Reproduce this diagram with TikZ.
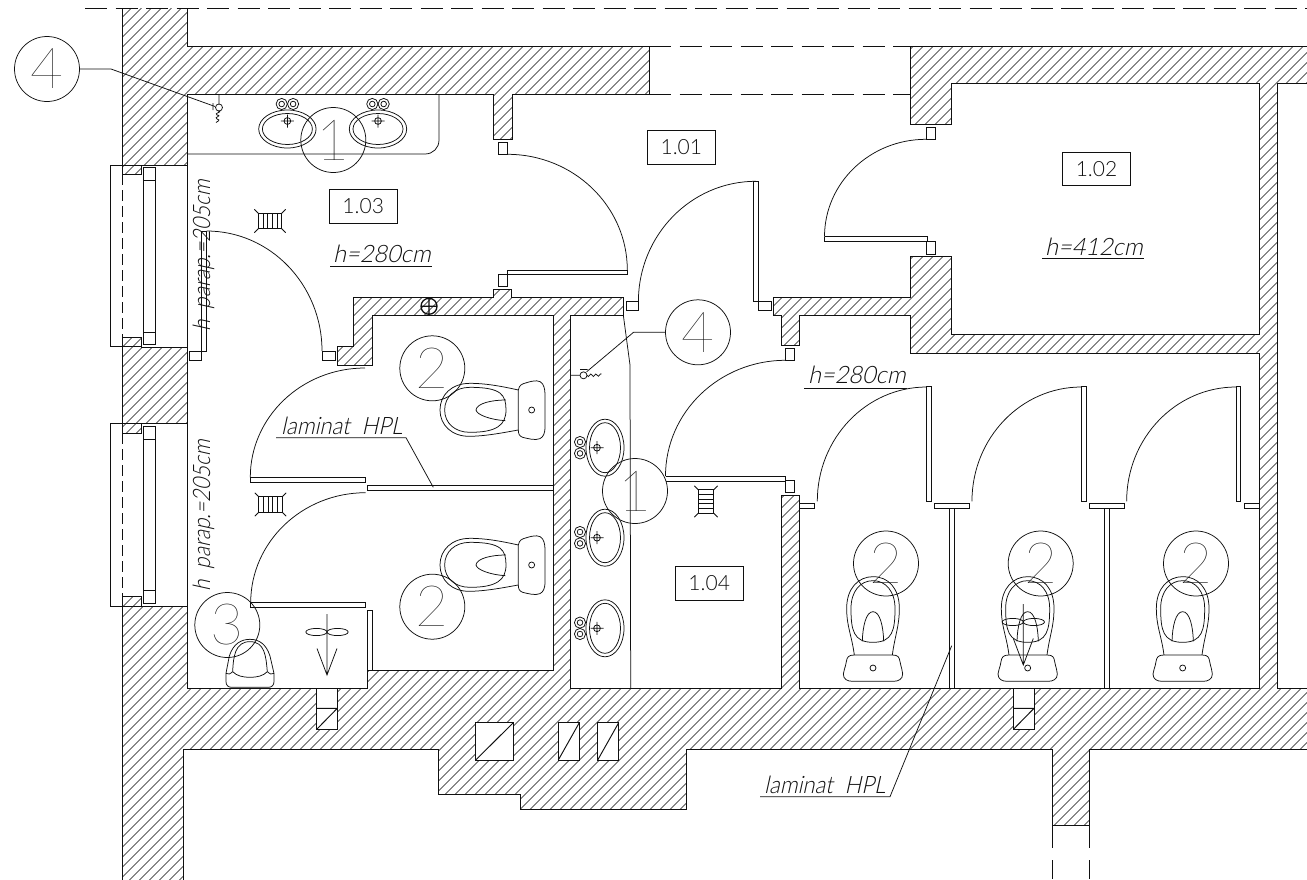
\documentclass[tikz,border=0pt]{standalone}
\usepackage{fontspec}
\usetikzlibrary{calc}
\setmainfont{Lato Light}
\newfontfamily\cadit{Lato Light}[FakeSlant=0.22,FakeStretch=0.98]
\newfontfamily\caditn{Lato Light}[FakeSlant=0.22,FakeStretch=0.92]
\newfontfamily\caditr{Lato Light}[FakeSlant=0.22,FakeStretch=0.86]
\newfontfamily\cadthin{Lato Thin}
\definecolor{ln}{HTML}{101010}
\newcommand{\qarc}[6]{\draw[thin line] (#1,#2) .. controls ($(#1,#2)!0.5523!(#3,#4)$) and ($(#5,#6)!0.5523!(#3,#4)$) .. (#5,#6);}
\newcommand{\wallpath}{
 (187,8) -- (187,46) -- (649,46) -- (649,94) -- (512,94) -- (512,139.3) -- (493.3,139.3) -- (493.3,94) -- (187,94) -- (187,165) -- (141,165) -- (141,174) -- (122,174) -- (122,8)
 (122,337) -- (141,337) -- (141,347) -- (187,347) -- (187,423) -- (141,423) -- (141,433) -- (122,433) -- (122,337)
 (122,596.7) -- (141,596.7) -- (141,606) -- (187,606) -- (187,688) -- (367.3,688) -- (367.3,670.7) -- (553,670.7) -- (553,315) -- (372,315) -- (372,365.3) -- (337.3,365.3) -- (337.3,346.7) -- (353,346.7) -- (353,297.5) -- (493.3,297.5) -- (493.3,289.3) -- (511.7,289.3) -- (511.7,297.5) -- (623.3,297.5) -- (623.3,315) -- (570.7,315) -- (570.7,688) -- (781,688) -- (781,495) -- (799.5,495) -- (799.5,688) -- (1259,688) -- (1259,353.3) -- (910.5,353.3) -- (910.5,315.3) -- (799.7,315.3) -- (799.7,345.3) -- (781.3,345.3) -- (781.3,315.3) -- (773.4,315.3) -- (773.4,297.3) -- (910.5,297.3) -- (910.5,256.3) -- (951.3,256.3) -- (951.3,334.7) -- (1259,334.7) -- (1259,83.3) -- (951.3,83.3) -- (951.3,124.3) -- (910.5,124.3) -- (910.5,46) -- (1315,46) -- (1315,83.3) -- (1277.5,83.3) -- (1277.5,688) -- (1315,688) -- (1315,749) -- (1089.7,749) -- (1089.7,825.3) -- (1052,825.3) -- (1052,749) -- (686.3,749) -- (686.3,809) -- (520.7,809) -- (520.7,794.3) -- (438,794.3) -- (438,749) -- (183,749) -- (183,885) -- (122,885) -- (122,596.7)
}
\newcommand{\tap}[2]{\draw[thin line] (#1,#2) circle[radius=5.6pt] (#1,#2) circle[radius=2.8pt];}
\newcommand{\drain}[2]{\draw[thin line] (#1,#2) circle[radius=3.4pt] (#1-6.5,#2) -- (#1+6.5,#2) (#1,#2-6.5) -- (#1,#2+6.5);}
\newcommand{\sinkH}[2]{%
 \draw[thin line] (#1,#2) ellipse[x radius=28.7pt,y radius=19pt] (#1,#2) ellipse[x radius=25pt,y radius=15.5pt];
 \drain{#1}{#2-8}\tap{#1-5.7}{#2-25}\tap{#1+5.7}{#2-25}}
\newcommand{\sinkV}[2]{%
 \draw[thin line] (#1,#2) ellipse[x radius=19pt,y radius=28.5pt] (#1,#2) ellipse[x radius=15.5pt,y radius=25pt];
 \drain{#1-8}{#2}\tap{#1-25}{#2-5.7}\tap{#1-25}{#2+5.7}}
\newcommand{\tagc}[3]{\node[circ] at (#1,#2) {};\node[digit] at (#1,#2) {#3};}
\newcommand{\fan}[2]{%
 \draw[thin line] (#1,#2-18) -- (#1,#2+43) (#1-10,#2+16.5) -- (#1,#2+43) -- (#1+10,#2+16.5);
 \draw[thin line] (#1-10.6,#2) ellipse[x radius=10.6pt,y radius=3.6pt] (#1+10.6,#2) ellipse[x radius=10.6pt,y radius=3.6pt];}
\newcommand{\duct}[1]{%
 \draw[wall line,fill=white] (#1,688.5) rectangle (#1+20.6,729.3);
 \draw[wall line] (#1,708.3) -- (#1+20.6,708.3) (#1,729.3) -- (#1+20.6,708.3);}
\newcommand{\shaft}[2]{\draw[wall line,fill=white] (#1,722.7) rectangle (#2,760);\draw[wall line] (#1,760) -- (#2,722.7);}
\newcommand{\wch}[1]{%
 \begin{scope}[shift={(380,280+#1)},x=.3333pt,y=-.3333pt]
 \draw[thin line] (415,330) .. controls (418,315) and (425,312) .. (440,308) .. controls (465,300) and (480,300) .. (488,312) .. controls (495,325) and (495,335) .. (495,350) -- (495,440) .. controls (495,462) and (490,470) .. (480,476) .. controls (465,482) and (445,476) .. (428,472) .. controls (418,468) and (415,462) .. (415,450) -- cycle;
 \draw[thin line] (455,390) circle[radius=9];
 \draw[thin line] (415,330) .. controls (370,320) and (320,310) .. (270,310) .. controls (215,310) and (180,345) .. (180,390) .. controls (180,435) and (215,470) .. (270,469) .. controls (320,468) and (370,458) .. (415,450);
 \draw[thin line] (378,390) .. controls (378,345) and (365,322) .. (270,322) .. controls (225,322) and (194,350) .. (194,390) .. controls (194,430) and (225,457) .. (270,457) .. controls (350,457) and (378,435) .. (378,390) -- cycle;
 \draw[thin line] (378,360) .. controls (335,360) and (290,370) .. (288,390) .. controls (290,405) and (335,420) .. (376,422);
 \end{scope}}
\newcommand{\wcv}[1]{%
 \begin{scope}[shift={(830+#1,520)},x=.3333pt,y=-.3333pt]
 \draw[thin line] (73,405) -- (187,405) .. controls (205,405) and (208,412) .. (210,425) .. controls (214,445) and (218,452) .. (218,462) .. controls (218,478) and (205,484) .. (190,484) -- (68,484) .. controls (52,484) and (40,478) .. (40,462) .. controls (40,452) and (46,445) .. (49,425) .. controls (51,412) and (55,405) .. (73,405) -- cycle;
 \draw[thin line] (129,444) circle[radius=9];
 \draw[thin line] (73,405) .. controls (65,345) and (50,320) .. (50,265) .. controls (50,205) and (85,170) .. (129,170) .. controls (175,170) and (208,205) .. (208,265) .. controls (208,320) and (195,345) .. (187,405);
 \draw[thin line] (129,182) .. controls (90,182) and (63,215) .. (63,265) .. controls (63,330) and (70,367) .. (129,367) .. controls (188,367) and (195,330) .. (195,265) .. controls (195,215) and (168,182) .. (129,182) -- cycle;
 \draw[thin line] (97,364) .. controls (98,320) and (108,275) .. (129,275) .. controls (150,275) and (160,320) .. (161,364);
 \end{scope}}
\newcommand{\grateH}[2]{%
 \draw[thin line] (#1-11.7,#2-7.7) rectangle (#1+11.7,#2+7.7);
 \foreach \s in {-7,-2.3,2.3,7} {\draw[thin line] (#1+\s,#2-7.7) -- (#1+\s,#2+7.7);}
 \draw[thin line] (#1-11.7,#2-7.7) -- ++(-4,-4) (#1+11.7,#2-7.7) -- ++(4,-4) (#1-11.7,#2+7.7) -- ++(-4,4) (#1+11.7,#2+7.7) -- ++(4,4);}
\newcommand{\grateV}[2]{%
 \draw[thin line] (#1-7.7,#2-11.7) rectangle (#1+7.7,#2+11.7);
 \foreach \s in {-7,-2.3,2.3,7} {\draw[thin line] (#1-7.7,#2+\s) -- (#1+7.7,#2+\s);}
 \draw[thin line] (#1-7.7,#2-11.7) -- ++(-4,-4) (#1+7.7,#2-11.7) -- ++(4,-4) (#1-7.7,#2+11.7) -- ++(-4,4) (#1+7.7,#2+11.7) -- ++(4,4);}
\newcommand{\stall}[1]{%
 \draw[wall line] (926.8+#1,386.7) rectangle (931.5+#1,501.3);
 \qarc{926.7+#1}{387}{817.3+#1}{387}{817.3+#1}{501.3}}
\begin{document}
\begin{tikzpicture}[x=1pt,y=-1pt,
 thin line/.style={draw=ln,line width=.75pt},
 wall line/.style={draw=ln,line width=.95pt},
 hatch line/.style={draw=ln,line width=.55pt},
 dash long/.style={draw=ln,line width=.95pt,dash pattern=on 22pt off 8.5pt},
 dash short/.style={draw=ln,line width=.8pt,dash pattern=on 10.5pt off 5.5pt},
 circ/.style={circle,draw=ln,line width=.75pt,minimum size=65pt,inner sep=0pt,fill=none},
 digit/.style={font=\cadthin\fontsize{57}{57}\selectfont,text=ln,inner sep=0pt},
 roomtag/.style={draw=ln,line width=.8pt,font=\fontsize{21}{21}\selectfont,text=ln,inner sep=0pt},
 cadtext/.style={font=\cadit\fontsize{24}{24}\selectfont,text=ln,inner sep=0pt},
 cadlam/.style={font=\caditn\fontsize{24}{24}\selectfont,text=ln,inner sep=0pt},
 cadpar/.style={font=\caditr\fontsize{24}{24}\selectfont,text=ln,inner sep=0pt}]
\useasboundingbox (0,0) rectangle (1307,879);
\clip (0,0) rectangle (1307,879);
\fill[white] (0,0) rectangle (1307,879);
% hatching
\begin{scope}
 \clip \wallpath;
 \foreach \k in {0,...,220} {\draw[hatch line] (\k*10+9.4,0) -- (\k*10+9.4-900,900);}
\end{scope}
\draw[wall line] \wallpath;
% dashed lines
\draw[dash long] (85,8) -- (1307,8);
\draw[dash long] (649,46) -- (910.5,46);
\draw[dash long] (649,94) -- (910.5,94);
\draw[dash short] (122,174) -- (122,337);
\draw[dash short] (122,433) -- (122,596.7);
\draw[wall line] (1052,825.3) -- (1052,848) (1052,860) -- (1052,879) (1089.7,825.3) -- (1089.7,848) (1089.7,860) -- (1089.7,879);
% windows
\draw[thin line] (141,165) -- (110.3,165) -- (110.3,346.7) -- (141,346.7);
\draw[thin line] (141,423) -- (110.3,423) -- (110.3,606) -- (141,606);
\draw[thin line] (143.3,167.5) rectangle (155.3,344) (143.3,180) -- (155.3,180) (143.3,332) -- (155.3,332);
\draw[thin line] (143.3,426) rectangle (155.3,603) (143.3,439) -- (155.3,439) (143.3,590) -- (155.3,590);
\draw[thin line] (187,165) -- (187,347) (187,423) -- (187,606);
% counters
\draw[thin line] (187,154) -- (425,154) .. controls (433,154) and (439,148) .. (439,140) -- (439,94);
\draw[thin line] (623.3,315) -- (630,365) -- (630.7,688);
% door 1.03
\draw[thin line] (201.7,231) rectangle (206.3,351);
\draw[thin line] (189.3,351) rectangle (201.7,360);
\draw[thin line] (322,351) rectangle (335,360);
\qarc{206.5}{231}{322}{231}{322}{351}
% door 1.01
\draw[thin line] (498.3,142.3) rectangle (507.3,154.3);
\qarc{507.3}{154.3}{627.3}{154.3}{627.3}{270}
\draw[thin line] (498.3,274.3) rectangle (507.3,286);
\draw[thin line] (507.3,274.3) -- (507.3,270) -- (627.3,270) -- (627.3,274.3) -- (507.3,274.3);
% door centre
\draw[thin line] (753.6,181.3) rectangle (758.5,301.7);
\draw[thin line] (758.5,301.7) rectangle (771,310.7);
\draw[thin line] (626,301.7) rectangle (638.4,310.7);
\qarc{755.8}{181.3}{638.4}{181.3}{638.4}{301.7}
% door 1.02
\draw[thin line] (926,127.3) rectangle (935.5,139.3);
\qarc{926}{139.3}{824.5}{139.3}{824.5}{236.7}
\draw[thin line] (824.5,236.7) -- (927,236.7) -- (927,241.7) (824.5,236.7) -- (824.5,241.3) -- (927,241.3);
\draw[thin line] (926,241.7) rectangle (935.5,254);
% door 1.04
\draw[thin line] (785.6,348.3) rectangle (794.4,360.3);
\qarc{785.6}{360.3}{665.5}{360.3}{665.5}{476}
\draw[thin line] (665.5,476) -- (785.5,476) -- (785.5,481) (665.5,481) -- (785.5,481);
\draw[thin line] (785.3,480.7) rectangle (794.7,492.7);
% WC doors
\draw[thin line] (250.3,477.3) rectangle (365.3,482.3);
\qarc{365}{368}{250.3}{368}{250.3}{477.3}
\draw[thin line] (367.3,485.5) rectangle (553,490.5);
\draw[thin line] (250.3,602.7) rectangle (365.3,607.3);
\qarc{365.7}{492.7}{250.7}{492.7}{250.7}{602.7}
\draw[thin line] (367.3,670.7) -- (367.3,610.3) -- (372.3,610.3) -- (372.3,670.7);
% stalls
\stall{0}\stall{154.67}\stall{309.34}
\draw[thin line] (799.5,503.3) rectangle (814.3,508.3);
\draw[thin line] (934.3,503.3) rectangle (969.7,508.3) (949.6,508.3) -- (949.6,688) (954.2,508.3) -- (954.2,688);
\draw[thin line] (1089,503.3) rectangle (1124.4,508.3) (1104.3,508.3) -- (1104.3,688) (1109,508.3) -- (1109,688);
\draw[thin line] (1244,503.3) rectangle (1259,508.3);
% shafts and ducts
\shaft{475.7}{513.3}\shaft{558.3}{579.3}\shaft{597.7}{618.7}
\duct{316.7}\duct{1013.4}
% column
\draw[draw=ln,line width=1.3pt] (429,306.3) circle[radius=8pt] (421,306.3) -- (437,306.3) (429,298.3) -- (429,314.3);
% fixtures
\sinkH{287.4}{129}\sinkH{378}{129}
\sinkV{605}{447.7}\sinkV{605}{537.7}\sinkV{605}{628.3}
\wch{0}\wch{155}
\wcv{0}\wcv{154.67}\wcv{309.67}
% small bowl
\begin{scope}[shift={(100,500)},x=.3333pt,y=-.3333pt]
 \draw[thin line] (388,468) .. controls (400,430) and (425,418) .. (450,418) .. controls (475,418) and (498,430) .. (510,468) -- (522,520) -- (522,545) .. controls (522,556) and (515,562) .. (505,562) -- (395,562) .. controls (385,562) and (378,556) .. (378,545) -- (378,520) -- cycle;
 \draw[thin line] (398,515) .. controls (400,470) and (405,425) .. (450,425) .. controls (495,425) and (498,470) .. (502,515) .. controls (490,528) and (470,532) .. (450,532) .. controls (430,532) and (410,528) .. (398,515) -- cycle;
 \draw[thin line] (378,520) .. controls (385,525) and (390,522) .. (398,515) (522,520) .. controls (515,525) and (510,522) .. (502,515);
\end{scope}
\fan{327}{632}\fan{1023.3}{622}
% grates
\grateH{270}{221}\grateH{270.5}{504.5}\grateV{706}{501.5}
% fixture 4 top
\draw[thin line] (219,94) -- (219,103.5) (219,107.5) circle[radius=3.5pt] (213,103) -- (213,110) (218,111) .. controls (224,112) and (213,113) .. (217,115) .. controls (223,116) and (213,117) .. (217,119) .. controls (222,120) and (216,122) .. (216,122.5);
% fixture 4 centre
\draw[thin line] (570.7,375.3) -- (580,375.3) (583.5,375.3) circle[radius=3.5pt] (580,369.5) -- (587.5,369.5) (587,375) .. controls (589,380) and (590,371) .. (592,375) .. controls (594,380) and (595,371) .. (597,375) .. controls (599,379) and (600,372) .. (601.5,374);
% tags
\tagc{47}{69}{4}
\draw[thin line] (79.5,69) -- (111,69) -- (215,106.5);
\tagc{333.3}{140}{1}
\tagc{698}{332.3}{4}
\draw[thin line] (665.5,332.3) -- (633.5,332.3) -- (586.7,371.7);
\tagc{635}{491}{1}
\tagc{432.3}{368.3}{2}\tagc{432.3}{606.7}{2}
\tagc{227.3}{625}{3}
\tagc{886}{563.5}{2}\tagc{1040.7}{563.5}{2}\tagc{1196}{563.5}{2}
% room tags
\node[roomtag,minimum width=67.5pt,minimum height=34pt] at (363.2,206) {1.03};
\node[roomtag,minimum width=67.5pt,minimum height=34pt] at (681.3,147.3) {1.01};
\node[roomtag,minimum width=68pt,minimum height=33.5pt] at (1096.5,168.7) {1.02};
\node[roomtag,minimum width=68pt,minimum height=34pt] at (709.2,583) {1.04};
% texts
\node[cadtext,anchor=base west] at (333,262.5) {h=280cm};
\draw[thin line] (330,266.3) -- (432,266.3);
\node[cadtext,anchor=base west] at (1045,255) {h=412cm};
\draw[thin line] (1042,258.7) -- (1144,258.7);
\node[cadtext,anchor=base west] at (808,383) {h=280cm};
\draw[thin line] (804,388) -- (907,388);
\node[cadlam,anchor=base west] at (281,434) {laminat\ \ HPL};
\draw[thin line] (276,437.7) -- (406,437.7) -- (433.3,487.3);
\node[cadlam,anchor=base west] at (764,793) {laminat\ \ HPL};
\draw[thin line] (760,796.7) -- (890,796.7) -- (951.7,645.7);
\node[cadpar,anchor=base west,rotate=90] at (210,332) {h\ \ parap.=205cm};
\node[cadpar,anchor=base west,rotate=90] at (210,592) {h\ \ parap.=205cm};
\end{tikzpicture}
\end{document}
